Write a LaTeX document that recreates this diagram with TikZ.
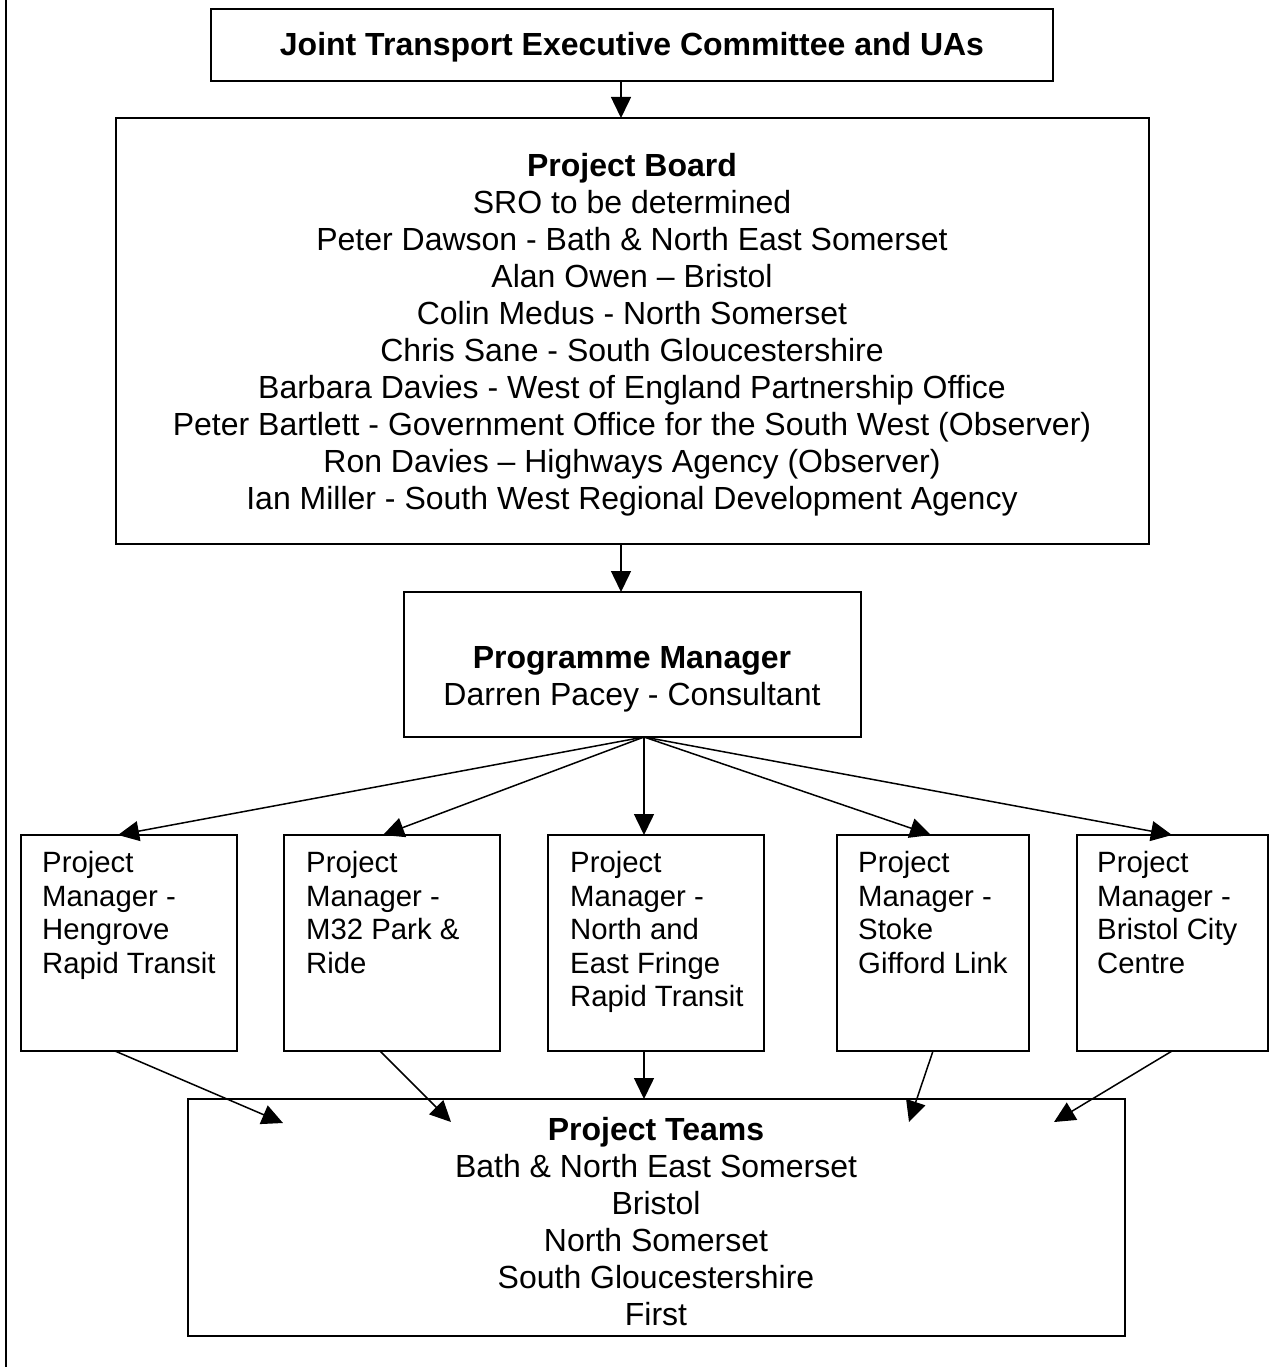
\documentclass[tikz,border=0pt]{standalone}
\usepackage{fontspec}
\setmainfont{Liberation Sans}
\usetikzlibrary{arrows.meta}
\begin{document}
\begin{tikzpicture}[x=1pt,y=-1pt,
  box/.style={draw=black,line width=1.5pt,inner sep=0pt,outer sep=0pt,minimum width=#1},
  big/.style={font=\fontsize{32}{37}\selectfont,inner sep=0pt,align=center,anchor=base},
  small/.style={font=\fontsize{29.33}{33.4}\selectfont,inner sep=0pt,align=left,anchor=base west},
  arr/.style={line width=1.5pt,-{Triangle[length=21pt,width=20pt]}}
]
\useasboundingbox (0,0) rectangle (1269,1367);
\draw[line width=2pt] (5.5,0) -- (5.5,1367);

% boxes
\node[box=842pt,minimum height=72pt] (top) at (632,45) {};
\node[box=1033pt,minimum height=426pt] (board) at (632.5,331) {};
\node[box=457pt,minimum height=145pt] (pm) at (632.5,664.5) {};
\node[box=216pt,minimum height=216pt] (b1) at (129,943) {};
\node[box=216pt,minimum height=216pt] (b2) at (392,943) {};
\node[box=216pt,minimum height=216pt] (b3) at (656,943) {};
\node[box=192pt,minimum height=216pt] (b4) at (933,943) {};
\node[box=191pt,minimum height=216pt] (b5) at (1172.5,943) {};
\node[box=937pt,minimum height=237pt] (teams) at (656.5,1217.5) {};

% texts (anchor base = baseline of the last line)
\node[big] (ttop) at (632,56) {\bfseries Joint Transport Executive Committee and UAs};
\node[big] (tboard) at (632,509) {\textbf{Project Board}\\
SRO to be determined\\
Peter Dawson - Bath \& North East Somerset\\
Alan Owen – Bristol\\
Colin Medus - North Somerset\\
Chris Sane - South Gloucestershire\\
Barbara Davies - West of England Partnership Office\\
Peter Bartlett - Government Office for the South West (Observer)\\
Ron Davies – Highways Agency (Observer)\\
Ian Miller - South West Regional Development Agency};
\node[big] (tpm) at (632,705) {\textbf{Programme Manager}\\Darren Pacey - Consultant};
\node[small] (t1) at (42,973) {Project\\Manager -\\Hengrove\\Rapid Transit};
\node[small] (t2) at (306,973) {Project\\Manager -\\M32 Park \&\\Ride};
\node[small] (t3) at (570,1006.4) {Project\\Manager -\\North and\\East Fringe\\Rapid Transit};
\node[small] (t4) at (858,973) {Project\\Manager -\\Stoke\\Gifford Link};
\node[small] (t5) at (1097,973) {Project\\Manager -\\Bristol City\\Centre};
\node[big] (tteams) at (656,1325) {\textbf{Project Teams}\\
Bath \& North East Somerset\\
Bristol\\
North Somerset\\
South Gloucestershire\\
First};

% connectors
\coordinate (ax) at (621,0);
\coordinate (fo) at (644,0);
\draw[arr] (top.south -| ax) -- (board.north -| ax);
\draw[arr] (board.south -| ax) -- (pm.north -| ax);

\draw[arr] (pm.south -| fo) -- (b1.north -| 118,0);
\draw[arr] (pm.south -| fo) -- (b2.north -| 383,0);
\draw[arr] (pm.south -| fo) -- (b3.north -| fo);
\draw[arr] (pm.south -| fo) -- (b4.north -| 931,0);
\draw[arr] (pm.south -| fo) -- (b5.north -| 1172,0);

\coordinate (e1) at (283,1123);
\coordinate (e2) at (451,1122);
\coordinate (e4) at (909,1122);
\coordinate (e5) at (1054,1122);
\draw[arr] (b1.south -| 115,0) -- (e1);
\draw[arr] (b2.south -| 380,0) -- (e2);
\draw[arr] (b3.south -| fo) -- (teams.north -| fo);
\draw[arr] (b4.south -| 933,0) -- (e4);
\draw[arr] (b5.south -| 1172,0) -- (e5);
\end{tikzpicture}
\end{document}
